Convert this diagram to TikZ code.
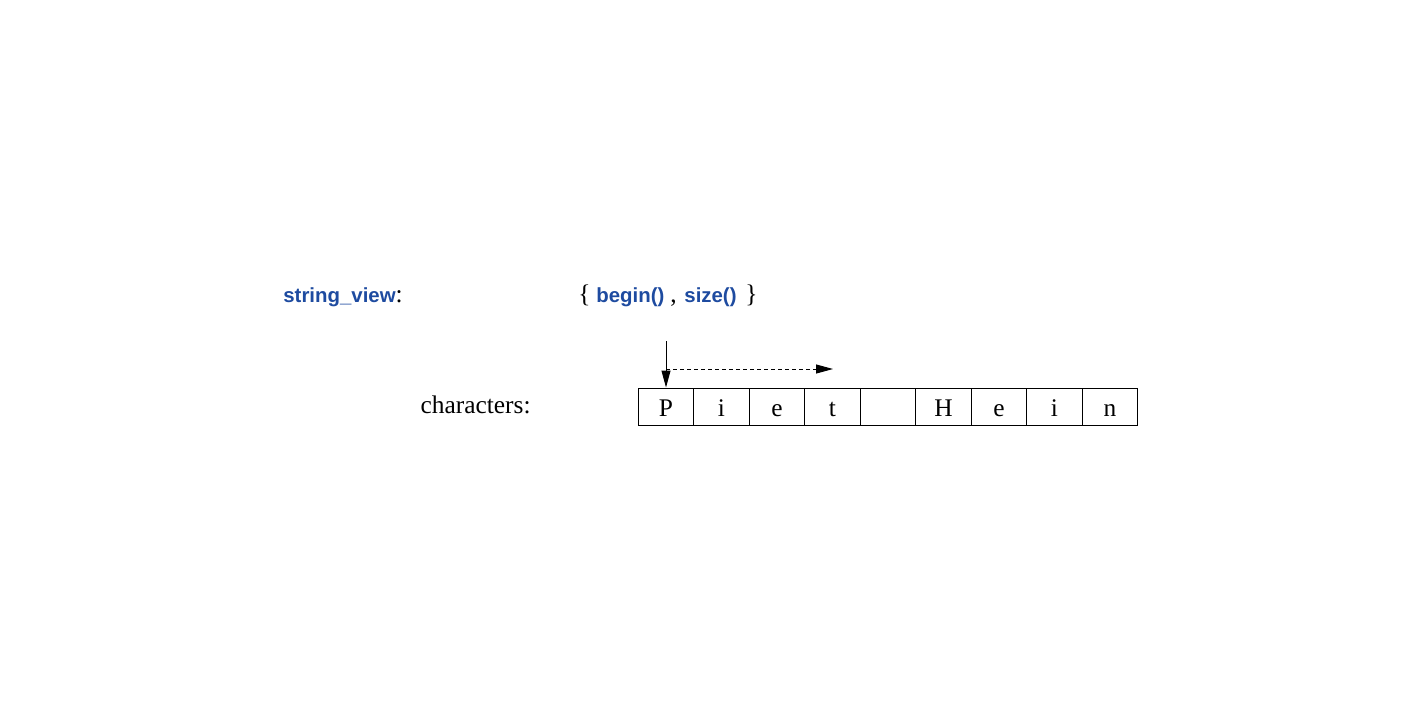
\documentclass[tikz,border=0pt]{standalone}
\usepackage{fontspec}
\setmainfont{Liberation Serif}
\setsansfont{Liberation Sans}
\usepackage{xcolor}
\usetikzlibrary{arrows.meta}
\definecolor{viewblue}{RGB}{30,75,160}
\newcommand{\code}[1]{\textcolor{viewblue}{\fontsize{10.2}{12}\sffamily\bfseries #1}}

\begin{document}
\begin{tikzpicture}[x=0.5pt,y=-0.5pt]
\tikzstyle{every node}+=[inner sep=0pt, font=\fontsize{12.7}{15}\selectfont]
\tikzset{charcell/.style={draw, line width=0.5pt, minimum width=27.75pt, minimum height=18.5pt, text height=11.5pt, text depth=2pt},
  ptr/.style={line width=0.5pt, -{Triangle[length=8.5pt,width=4.5pt]}}}
\useasboundingbox (0,0) rectangle (1416,712);
\node [anchor=base west] (sv) at (283,302) {\code{string\_view}:};
\node [anchor=base west] (lb) at (578,302) {\{};
\node [anchor=base west] (bg) at (596,302) {\code{begin()}};
\node [anchor=base west] (cm) at (670,302) {,};
\node [anchor=base west] (sz) at (684,302) {\code{size()}};
\node [anchor=base west] (rb) at (745,302) {\}};
\node [anchor=base east] (chars) at (531,413) {characters:};
\node [charcell] (c1) at (666,406.5) {P};
\node [charcell] (c2) at (721.5,406.5) {i};
\node [charcell] (c3) at (777,406.5) {e};
\node [charcell] (c4) at (832.5,406.5) {t};
\node [charcell] (c5) at (888,406.5) {};
\node [charcell] (c6) at (943.5,406.5) {H};
\node [charcell] (c7) at (999,406.5) {e};
\node [charcell] (c8) at (1054.5,406.5) {i};
\node [charcell] (c9) at (1110,406.5) {n};
\coordinate (btop) at (666,341);
\coordinate (sfrom) at (666,369);
\coordinate (sto) at (833,369);
\draw [ptr] (btop) -- (c1.north);
\draw [ptr, dash pattern=on 2pt off 1.5pt] (sfrom) -- (sto);
\end{tikzpicture}
\end{document}
